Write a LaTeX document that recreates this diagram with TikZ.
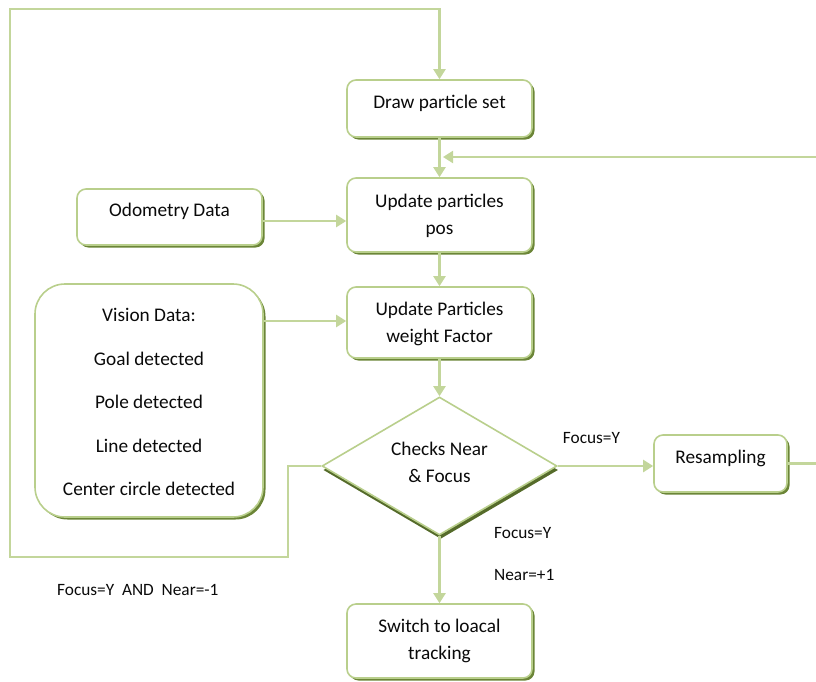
\documentclass[tikz,border=0pt]{standalone}
\usepackage{fontspec}
\setmainfont{Carlito}
\usetikzlibrary{arrows.meta,shapes.geometric,shadows}
\definecolor{lgreen}{HTML}{C3D69B}
\definecolor{bgreen}{HTML}{B9CF8C}
\definecolor{sgreen}{HTML}{6B8537}
\definecolor{dgreen}{HTML}{556B2A}
\definecolor{txtc}{HTML}{0A0A0A}
\begin{document}
\begin{tikzpicture}[x=1pt,y=-1pt,
  box/.style={draw=bgreen, line width=1.6pt, fill=white, rounded corners=9pt, inner sep=0pt,
    general shadow={fill=sgreen, shadow xshift=2.5pt, shadow yshift=-2.5pt}},
  lbl/.style={font=\fontsize{19.3}{27}\selectfont, text=txtc, align=center, inner sep=0pt},
  small/.style={font=\fontsize{17.3}{20}\selectfont, text=txtc, inner sep=0pt},
  conn/.style={draw=lgreen, line width=2.2pt, -{Triangle[width=12pt,length=10pt]}},
  plain/.style={draw=lgreen, line width=2.2pt}]
\useasboundingbox (0,0) rectangle (816,681);
\clip (0,0) rectangle (816,681);

% boxes
\node[box, minimum width=185pt, minimum height=57pt] (draw) at (439.5,108.5) {};
\node[lbl] (draw-t) at (439.5,103) {Draw particle set};

\node[box, minimum width=185pt, minimum height=74pt] (pos) at (439.5,215) {};
\node[lbl] (pos-t) at (439.5,215.5) {Update particles\\pos};

\node[box, minimum width=185pt, minimum height=56pt] (odo) at (169.5,217) {};
\node[lbl] (odo-t) at (169.5,211) {Odometry Data};

\node[box, minimum width=185pt, minimum height=71pt] (weight) at (439.5,322.5) {};
\node[lbl] (weight-t) at (439.5,324) {Update Particles\\weight Factor};

\node[box, rounded corners=30pt, minimum width=228pt, minimum height=233pt] (vision) at (149,400.5) {};
\node[lbl, font=\fontsize{19.3}{43.5}\selectfont] (vision-t) at (149,402)
  {Vision Data:\\Goal detected\\Pole detected\\Line detected\\Center circle detected};

\node[diamond, draw=bgreen, line width=1.6pt, fill=white, minimum width=235pt, minimum height=138pt,
  inner sep=0pt, aspect=1.7, general shadow={fill=dgreen, shadow xshift=1.2pt, shadow yshift=-4pt}]
  (dia) at (439.5,466) {};
\node[lbl] (dia-t) at (439.5,462) {Checks Near\\\& Focus};

\node[box, minimum width=133pt, minimum height=57pt] (res) at (720.5,463.5) {};
\node[lbl] (res-t) at (720.5,458) {Resampling};

\node[box, minimum width=185pt, minimum height=74pt] (sw) at (439.5,641) {};
\node[lbl] (sw-t) at (439.5,641) {Switch to loacal\\tracking};

% labels
\node[small] (l1) at (591.5,438) {Focus=Y};
\node[small, anchor=west] (l2) at (494,533) {Focus=Y};
\node[small, anchor=west] (l3) at (494,575) {Near=+1};
\node[small, anchor=west] (l4) at (57,590) {Focus=Y\ \ AND\ \ Near=-1};

% helper coordinates
\coordinate (oy) at (0,221);
\coordinate (wy) at (0,321);
\coordinate (j) at (443,157);
\coordinate (lc) at (288,557);
\coordinate (tc) at (10,9);

% connectors
\draw[conn] (draw.south) -- (pos.north);
\draw[conn] (pos.south) -- (weight.north);
\draw[conn] (weight.south) -- (dia.north);
\draw[conn] (dia.south) -- (sw.north);
\draw[conn] (odo.east |- oy) -- (pos.west |- oy);
\draw[conn] (vision.east |- wy) -- (weight.west |- wy);
\draw[conn] (dia.east) -- (res.west |- dia.east);
\draw[conn] (res.east) -- ++(45,0) |- (j);
\draw[conn] (dia.west) -| (lc) -| (tc) -| (draw.north);
\end{tikzpicture}
\end{document}
